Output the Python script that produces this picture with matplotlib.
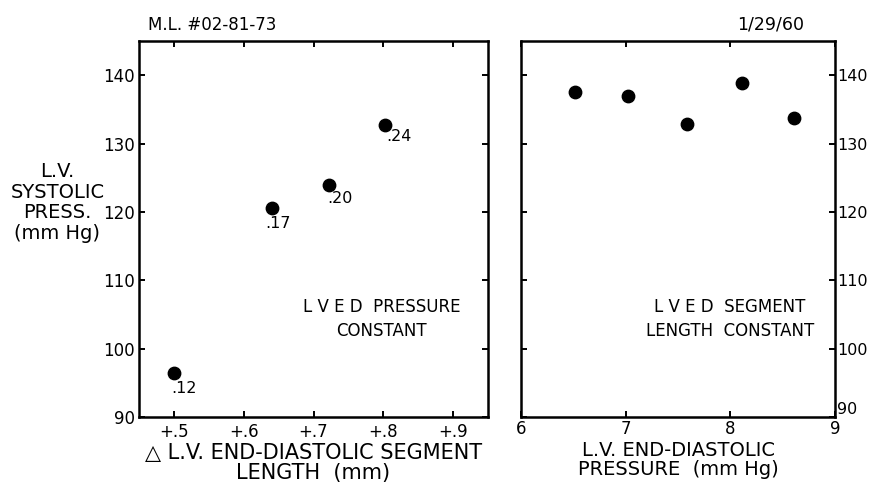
import matplotlib.pyplot as plt

# ------------------------------
# DATA
# ------------------------------
seg_length = [0.50, 0.641, 0.722, 0.803]
seg_pressure = [96.4, 120.6, 124.0, 132.7]
seg_labels = [".12", ".17", ".20", ".24"]

edp = [6.51, 7.02, 7.58, 8.11, 8.61]
edp_pressure = [137.6, 136.9, 132.9, 138.9, 133.8]

left_xticks = [0.5, 0.6, 0.7, 0.8, 0.9]
left_xticklabels = ["+.5", "+.6", "+.7", "+.8", "+.9"]
right_xticks = [6, 7, 8, 9]
yticks = [90, 100, 110, 120, 130, 140]

# ------------------------------
# FIGURE
# ------------------------------
plt.rcParams['font.family'] = ['DejaVu Sans']
fig = plt.figure(figsize=(8.69, 4.92), dpi=100)
ax1 = fig.add_axes([0.160, 0.1524, 0.4016, 0.7642])
ax2 = fig.add_axes([0.600, 0.1524, 0.3608, 0.7642])

for ax in (ax1, ax2):
    for sp in ax.spines.values():
        sp.set_linewidth(1.8)
    ax.set_ylim(90, 145)
    ax.set_yticks(yticks)
    ax.tick_params(direction='in', length=4, width=1.4, labelsize=12,
                   top=True, right=True, pad=3)

# --- left panel ---
ax1.scatter(seg_length, seg_pressure, s=80, color='black', zorder=5)
offsets = [(7, -11), (4, -11), (8, -10), (10, -8)]
for x, y, lab, off in zip(seg_length, seg_pressure, seg_labels, offsets):
    ax1.annotate(lab, (x, y), xytext=off, textcoords='offset points',
                 ha='center', va='center', fontsize=11.5)
ax1.set_xlim(0.45, 0.95)
ax1.set_xticks(left_xticks)
ax1.set_xticklabels(left_xticklabels)
ax1.tick_params(axis='x', labelsize=12, pad=4)
ax1.set_xlabel("△ L.V. END-DIASTOLIC SEGMENT\nLENGTH  (mm)", fontsize=15,
               linespacing=1.0, labelpad=2)
ax1.text(0.696, 0.26, "L V E D  PRESSURE\nCONSTANT", transform=ax1.transAxes,
         ha='center', va='center', fontsize=12, linespacing=1.4)
fig.text(0.066, 0.588, "L.V.\nSYSTOLIC\nPRESS.\n(mm Hg)", ha='center',
         va='center', fontsize=14, linespacing=1.1)
fig.text(0.170, 0.95, "M.L. #02-81-73", ha='left', va='center', fontsize=12)

# --- right panel ---
ax2.scatter(edp, edp_pressure, s=80, color='black', zorder=5)
ax2.set_xlim(6, 9)
ax2.set_xticks(right_xticks)
ax2.tick_params(axis='x', labelsize=12, pad=2)
ax2.tick_params(axis='y', labelleft=False, labelright=True, labelsize=11.5, pad=1.5)
# lift the bottom "90" so it clears the "9" below
lab90 = ax2.yaxis.get_major_ticks()[0].label2
lab90.set_verticalalignment('bottom')
lab90.set_fontsize(11.5)
ax2.set_xlabel("L.V. END-DIASTOLIC\nPRESSURE  (mm Hg)", fontsize=14,
               linespacing=1.05, labelpad=2)
ax2.text(0.665, 0.26, "L V E D  SEGMENT\nLENGTH  CONSTANT", transform=ax2.transAxes,
         ha='center', va='center', fontsize=12, linespacing=1.4)
fig.text(0.925, 0.95, "1/29/60", ha='right', va='center', fontsize=12.5)

fig.savefig("out.png", dpi=100)
